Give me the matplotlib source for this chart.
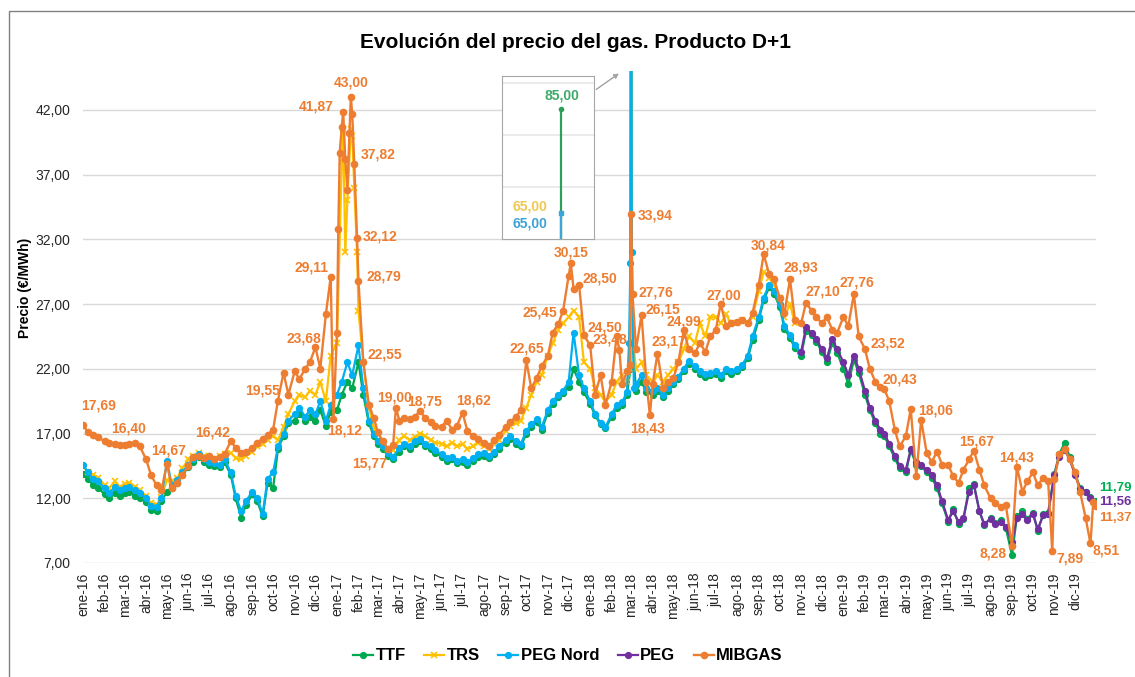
import pandas as pd
import numpy as np
import matplotlib.pyplot as plt
import matplotlib.dates as mdates
from matplotlib.patches import Rectangle

plt.rcParams['font.family'] = ['Liberation Sans', 'DejaVu Sans']

# fechas base: cuatro lecturas por mes (dias 1, 8, 16 y 23)
meses = pd.date_range('2016-01-01', '2019-12-01', freq='MS')
dias = [1, 8, 16, 23]
fechas = [m + pd.Timedelta(days=d - 1) for m in meses for d in dias]

nombres_mes = ['ene', 'feb', 'mar', 'abr', 'may', 'jun',
               'jul', 'ago', 'sep', 'oct', 'nov', 'dic']

# TTF (ene-16 a dic-19)
ttf = [
    13.9, 13.5, 13.0, 12.8,
    12.3, 12.0, 12.4, 12.2,
    12.4, 12.5, 12.2, 12.0,
    11.7, 11.1, 11.0, 11.8,
    12.5, 12.8, 13.2, 13.8,
    14.4, 14.8, 15.2, 14.8,
    14.6, 14.5, 14.4, 14.8,
    13.8, 12.0, 10.5, 11.5,
    12.3, 11.8, 10.6, 13.2,
    12.8, 15.8, 16.8, 17.8,
    18.0, 18.5, 18.0, 18.3,
    18.0, 18.8, 17.6, 18.7,
    18.8, 20.0, 21.0, 20.5,
    22.5, 20.0, 17.8, 16.8,
    16.2, 15.8, 15.3, 15.0,
    15.6, 16.0, 15.8, 16.2,
    16.4, 16.0, 15.8, 15.5,
    15.2, 14.9, 15.0, 14.7,
    14.8, 14.6, 14.9, 15.2,
    15.3, 15.1, 15.4, 15.8,
    16.3, 16.6, 16.2, 16.0,
    17.0, 17.5, 17.9, 17.3,
    18.6, 19.3, 19.8, 20.1,
    20.6, 22.0, 21.0, 20.2,
    19.3, 18.4, 17.7, 17.4,
    18.3, 19.0, 19.2, 20.0,
    85.0, 20.3, 21.0, 20.2,
    20.0, 20.3, 19.8, 20.3,
    20.8, 21.2, 21.8, 22.4,
    22.0, 21.6, 21.4, 21.5,
    21.6, 21.3, 21.8, 21.6,
    21.8, 22.1, 22.8, 24.2,
    25.8, 27.3, 28.3, 27.8,
    26.8, 25.1, 24.4, 23.6,
    23.0, 24.9, 24.6, 24.1,
    23.3, 22.5, 24.0, 23.2,
    22.0, 20.8, 22.7, 21.7,
    20.0, 18.8, 17.8, 17.0,
    16.8, 16.0, 15.1, 14.3,
    14.0, 15.7, 14.6, 14.5,
    14.0, 13.6, 12.8, 11.6,
    10.2, 11.2, 10.0, 10.4,
    12.8, 13.1, 11.0, 9.9,
    10.5, 10.1, 10.3, 9.7,
    7.6, 10.6, 11.0, 10.4,
    10.9, 9.5, 10.8, 10.9,
    13.9, 15.4, 16.3, 15.2,
    13.9, 12.8, 12.5, 12.1,
]
ttf_extra_fechas = ['2018-02-28', '2018-03-02', '2019-12-31']
ttf_extra = [22.0, 25.0, 11.79]

# TRS (ene-16 a oct-18)
trs = [
    14.5, 14.0, 13.8, 13.6,
    13.0, 12.8, 13.3, 12.9,
    13.1, 13.2, 12.9, 12.6,
    12.2, 11.6, 11.5, 12.1,
    13.4, 13.3, 13.6, 14.3,
    15.0, 15.3, 15.5, 15.3,
    15.2, 15.0, 15.3, 15.4,
    15.5, 15.1, 15.0, 15.3,
    15.6, 16.0, 16.2, 16.5,
    16.8, 16.5, 17.5, 18.5,
    19.5, 20.0, 19.8, 20.3,
    20.0, 21.0, 19.5, 23.0,
    24.0, 38.0, 35.0, 40.0,
    26.5, 22.5, 19.0, 17.5,
    16.5, 16.1, 15.8, 15.7,
    16.5, 16.8, 16.5, 16.7,
    17.0, 16.8, 16.5, 16.3,
    16.2, 16.0, 16.3, 16.0,
    16.2, 15.8, 16.0, 16.3,
    16.0, 15.8, 16.2, 16.5,
    17.2, 17.6, 17.8, 18.0,
    19.0, 20.0, 21.0, 21.5,
    23.0, 24.0, 25.0, 25.5,
    26.0, 26.5, 26.0, 22.5,
    22.0, 20.5, 20.0, 19.5,
    20.0, 21.0, 21.5, 21.0,
    65.0, 22.0, 22.5, 21.5,
    21.0, 21.5, 21.0, 21.5,
    22.0, 22.5, 23.5, 24.5,
    24.0, 25.5, 24.5, 26.0,
    26.0, 25.5, 26.2, 25.5,
    25.5, 25.8, 25.5, 26.0,
    28.0, 29.5, 29.0, 28.5,
    27.5, 26.0, 27.0, 25.5,
]
trs_extra_fechas = ['2017-01-10', '2017-01-13', '2017-01-21', '2017-01-26',
                    '2017-01-30', '2018-02-28', '2018-03-02']
trs_extra = [40.5, 31.0, 40.5, 36.0, 31.0, 22.0, 25.0]

# PEG Nord (ene-16 a oct-18)
peg_nord = [
    14.6, 14.0, 13.5, 13.3,
    12.8, 12.4, 12.9, 12.6,
    12.8, 12.9, 12.6, 12.4,
    12.0, 11.4, 11.3, 12.0,
    14.9, 13.0, 13.4, 14.0,
    14.6, 15.0, 15.4, 15.0,
    14.8, 14.7, 14.6, 15.0,
    14.0, 12.2, 11.0, 11.8,
    12.5, 12.0, 10.8, 13.5,
    14.0, 16.0, 17.0, 18.0,
    18.5, 19.0, 18.3, 18.8,
    18.5, 19.5, 18.0, 19.2,
    20.0, 21.0, 22.5, 21.5,
    23.8, 20.5, 18.0, 17.0,
    16.4, 16.0, 15.5, 15.2,
    15.9, 16.2, 16.0, 16.4,
    16.6, 16.2, 16.0, 15.7,
    15.4, 15.1, 15.2, 14.9,
    15.0, 14.8, 15.1, 15.4,
    15.5, 15.3, 15.6, 16.0,
    16.5, 16.8, 16.4, 16.2,
    17.2, 17.7, 18.1, 17.5,
    18.8, 19.5, 20.0, 20.3,
    21.0, 24.8, 21.5, 20.5,
    19.5, 18.5, 17.8, 17.5,
    18.5, 19.2, 19.4, 20.2,
    65.0, 20.8, 21.5, 20.5,
    20.3, 20.5, 20.0, 20.5,
    21.0, 21.4, 22.0, 22.6,
    22.2, 21.8, 21.6, 21.7,
    21.8, 21.5, 22.0, 21.8,
    22.0, 22.3, 23.0, 24.5,
    26.0, 27.5, 28.5, 28.0,
    27.0, 25.3, 24.6, 23.8,
]
peg_nord_extra_fechas = ['2018-02-26', '2018-02-28', '2018-03-02', '2018-03-05', '2018-10-31']
peg_nord_extra = [24.0, 30.2, 31.0, 20.5, 23.3]

# PEG (nov-18 a dic-19)
peg = [
    23.3, 25.2, 24.8, 24.3,
    23.5, 22.8, 24.3, 23.5,
    22.5, 21.5, 23.0, 22.0,
    20.3, 19.0, 18.0, 17.3,
    17.0, 16.2, 15.3, 14.5,
    14.2, 15.8, 14.8, 14.6,
    14.2, 13.8, 13.0, 11.8,
    10.3, 11.0, 10.2, 10.5,
    12.5, 13.0, 11.0, 10.0,
    10.4, 10.0, 10.2, 9.8,
    8.6, 10.5, 10.8, 10.3,
    10.8, 9.6, 10.7, 10.8,
    13.8, 15.2, 15.7, 15.0,
    13.8, 12.7, 12.5, 12.0,
]
peg_extra_fechas = ['2019-12-31']
peg_extra = [11.56]

# MIBGAS (ene-16 a dic-19)
mibgas = [
    17.69, 17.1, 16.9, 16.7,
    16.4, 16.3, 16.2, 16.1,
    16.1, 16.2, 16.3, 16.0,
    15.0, 13.8, 13.0, 12.6,
    14.67, 12.8, 13.2, 13.8,
    14.5, 15.2, 15.3, 15.1,
    15.3, 15.0, 15.2, 15.4,
    16.42, 15.9, 15.5, 15.6,
    15.9, 16.3, 16.6, 16.9,
    17.3, 19.55, 21.7, 20.0,
    21.8, 21.2, 22.0, 22.5,
    23.68, 22.0, 26.2, 29.11,
    24.8, 40.7, 35.8, 41.7,
    28.79, 22.55, 19.2, 18.2,
    17.1, 16.4, 15.77, 16.1,
    18.0, 18.2, 18.1, 18.3,
    18.75, 18.2, 17.9, 17.6,
    17.5, 18.0, 17.3, 17.6,
    18.62, 17.2, 16.8, 16.6,
    16.3, 16.0, 16.5, 16.9,
    17.5, 17.9, 18.3, 18.8,
    22.65, 20.5, 21.3, 22.2,
    23.0, 24.8, 25.45, 26.5,
    29.2, 28.2, 28.5, 24.6,
    23.8, 20.0, 21.5, 19.2,
    21.0, 24.5, 20.8, 21.8,
    33.94, 23.5, 26.15, 21.0,
    20.8, 23.17, 20.5, 21.0,
    21.3, 22.5, 24.99, 23.5,
    23.2, 24.0, 23.3, 24.5,
    25.0, 27.0, 25.3, 25.5,
    25.6, 25.8, 25.5, 26.3,
    28.5, 30.84, 29.3, 28.9,
    27.5, 26.3, 28.93, 25.8,
    25.5, 27.1, 26.5, 26.0,
    25.5, 26.0, 25.0, 24.8,
    26.0, 25.3, 27.76, 24.5,
    23.52, 22.0, 21.0, 20.6,
    20.43, 19.5, 17.3, 16.0,
    16.8, 18.9, 13.7, 18.06,
    15.5, 14.8, 15.6, 14.6,
    14.6, 13.7, 13.2, 14.2,
    15.0, 15.67, 14.2, 13.0,
    12.0, 11.6, 11.3, 11.5,
    8.28, 14.43, 12.5, 13.3,
    14.0, 13.0, 13.6, 13.3,
    13.5, 15.4, 15.8, 15.0,
    14.0, 12.5, 10.5, 8.51,
]
mibgas_extra_fechas = ['2016-12-27', '2017-01-03', '2017-01-05', '2017-01-10',
                       '2017-01-13', '2017-01-19', '2017-01-21', '2017-01-26',
                       '2017-01-30', '2017-03-27', '2017-12-04', '2018-02-12',
                       '2018-02-27', '2018-03-03', '2018-03-28', '2019-10-29',
                       '2019-12-27', '2019-12-31']
mibgas_extra = [18.12, 32.8, 38.7, 41.87,
                38.2, 40.2, 43.00, 37.82,
                32.12, 19.00, 30.15, 23.48,
                22.3, 27.76, 18.43, 7.89,
                11.7, 11.37]

# etiquetas de datos (texto, fecha, valor donde va el texto)
etiquetas_mibgas = [
    ('17,69', '2016-01-24', 19.13), ('16,40', '2016-03-07', 17.36),
    ('14,67', '2016-05-04', 15.66), ('16,42', '2016-07-05', 17.05),
    ('19,55', '2016-09-16', 20.29), ('23,68', '2016-11-14', 24.31),
    ('29,11', '2016-11-26', 29.80), ('41,87', '2016-12-02', 42.24),
    ('43,00', '2017-01-21', 44.09), ('37,82', '2017-03-02', 38.53),
    ('32,12', '2017-03-04', 32.19), ('28,79', '2017-03-10', 29.10),
    ('22,55', '2017-03-11', 23.07), ('18,12', '2017-01-12', 17.20),
    ('19,00', '2017-03-25', 19.75), ('18,75', '2017-05-08', 19.44),
    ('18,62', '2017-07-17', 19.52), ('15,77', '2017-02-17', 14.65),
    ('22,65', '2017-10-02', 23.54), ('25,45', '2017-10-20', 26.32),
    ('30,15', '2017-12-04', 30.96), ('28,50', '2018-01-15', 28.95),
    ('24,50', '2018-01-22', 25.16), ('23,48', '2018-01-29', 24.23),
    ('33,94', '2018-04-04', 33.82), ('27,76', '2018-04-06', 27.87),
    ('26,15', '2018-04-16', 26.55), ('18,43', '2018-03-25', 17.36),
    ('23,17', '2018-04-24', 24.08), ('24,99', '2018-05-16', 25.62),
    ('27,00', '2018-07-13', 27.63), ('30,84', '2018-09-14', 31.50),
    ('28,93', '2018-10-31', 29.80), ('27,10', '2018-12-02', 27.94),
    ('27,76', '2019-01-20', 28.64), ('23,52', '2019-03-06', 23.92),
    ('20,43', '2019-03-23', 21.14), ('18,06', '2019-05-14', 18.75),
    ('15,67', '2019-07-12', 16.35), ('14,43', '2019-09-08', 15.11),
    ('8,28', '2019-08-04', 7.70), ('7,89', '2019-11-23', 7.31),
    ('8,51', '2020-01-15', 8.00),
]

verde = '#00A84F'
amarillo = '#FFC000'
azul = '#00B0F0'
morado = '#7030A0'
naranja = '#ED7D31'


def serie(base_fechas, valores, extra_fechas, extra_valores):
    idx = pd.to_datetime(list(base_fechas) + list(extra_fechas))
    s = pd.Series(list(valores) + list(extra_valores), index=idx)
    return s.sort_index()


s_ttf = serie(fechas, ttf, ttf_extra_fechas, ttf_extra)
s_trs = serie(fechas[:len(trs)], trs, trs_extra_fechas, trs_extra)
s_pegn = serie(fechas[:len(peg_nord)], peg_nord, peg_nord_extra_fechas, peg_nord_extra)
s_peg = serie(fechas[-len(peg):], peg, peg_extra_fechas, peg_extra)
s_mib = serie(fechas, mibgas, mibgas_extra_fechas, mibgas_extra)

fig = plt.figure(figsize=(11.35, 6.77), dpi=100)
W, H = 1135, 677
ax = fig.add_axes([83 / W, 1 - 563 / H, (1096 - 83) / W, (563 - 71) / H])

ax.plot(s_ttf.index, s_ttf.values, color=verde, marker='o', ms=4.2, lw=1.6, label='TTF')
ax.plot(s_trs.index, s_trs.values, color=amarillo, marker='x', ms=4.5, mew=1.2, lw=1.6, label='TRS')
ax.plot(s_pegn.index, s_pegn.values, color=azul, marker='o', ms=4.2, lw=1.6, label='PEG Nord')
ax.plot(s_peg.index, s_peg.values, color=morado, marker='o', ms=4.2, lw=1.6, label='PEG')
ax.plot(s_mib.index, s_mib.values, color=naranja, marker='o', ms=4.5, lw=1.7, label='MIBGAS')

ax.set_xlim(pd.Timestamp('2016-01-01'), pd.Timestamp('2019-12-31'))
ax.set_ylim(7, 45)
yt = np.arange(7, 43, 5)
ax.set_yticks(yt)
ax.set_yticklabels([f'{v:.2f}'.replace('.', ',') for v in yt])
ax.set_xticks(meses)
ax.set_xticklabels([f'{nombres_mes[m.month - 1]}-{m.year % 100}' for m in meses], rotation=90)
ax.grid(axis='y', color='#D9D9D9', lw=1)
ax.set_axisbelow(True)
for sp in ax.spines.values():
    sp.set_visible(False)
ax.tick_params(axis='y', length=0, labelsize=10, pad=9, labelcolor='#262626')
ax.tick_params(axis='x', length=0, labelsize=10, pad=7, labelcolor='#262626')

for txt, f, v in etiquetas_mibgas:
    ax.text(mdates.date2num(pd.Timestamp(f)), v, txt, ha='center', va='center',
            color=naranja, fontsize=10, fontweight='bold', clip_on=False)

# valores finales
xf = mdates.date2num(pd.Timestamp('2020-01-05'))
ax.text(xf, 12.80, '11,79', color='#00B050', fontsize=9.5, fontweight='bold', va='center', clip_on=False)
ax.text(xf, 11.71, '11,56', color=morado, fontsize=9.5, fontweight='bold', va='center', clip_on=False)
ax.text(xf, 10.48, '11,37', color=naranja, fontsize=9.5, fontweight='bold', va='center', clip_on=False)

# recuadro con el detalle del pico de marzo 2018
ax_in = fig.add_axes([502 / W, 1 - 239 / H, 92 / W, 163 / H])
fecha_pico = pd.Timestamp('2018-03-01')
for s, c, mk in [(s_ttf, '#2E9E5B', 'o'), (s_trs, '#F2C14E', None), (s_pegn, '#3AA6DC', 's')]:
    antes = s[s.index < fecha_pico].iloc[-1]
    ax_in.plot([0, 0], [antes, s[fecha_pico]], color=c, lw=1.6)
    if mk:
        ax_in.plot([0], [s[fecha_pico]], color=c, marker=mk, ms=3)
ax_in.set_xlim(-0.64, 0.36)
ax_in.set_ylim(60, 91.35)
ax_in.set_yticks([70, 80, 90])
ax_in.set_xticks([])
ax_in.tick_params(length=0, labelleft=False)
ax_in.grid(axis='y', color='#E8E8E8', lw=1.2)
for sp in ax_in.spines.values():
    sp.set_color('#A6A6A6')
ax_in.text(0.652, 0.883, '85,00', transform=ax_in.transAxes, ha='center', va='center',
           color='#3DAA6A', fontsize=10, fontweight='bold')
ax_in.text(0.30, 0.202, '65,00', transform=ax_in.transAxes, ha='center', va='center',
           color='#F0C850', fontsize=10, fontweight='bold')
ax_in.text(0.30, 0.098, '65,00', transform=ax_in.transAxes, ha='center', va='center',
           color='#3FA2D6', fontsize=10, fontweight='bold')
fig.add_artist(plt.annotate('', xy=(621, H - 72), xytext=(594, H - 91),
                            xycoords='figure pixels', textcoords='figure pixels',
                            arrowprops=dict(arrowstyle='-|>', color='#A6A6A6', lw=0.8,
                                            mutation_scale=7)))

fig.text(576 / W, 1 - 43 / H, 'Evolución del precio del gas. Producto D+1',
         ha='center', va='center', fontsize=15, fontweight='bold')
fig.text(25 / W, 1 - 288 / H, 'Precio (€/MWh)', rotation=90, ha='center', va='center',
         fontsize=10, fontweight='bold')

h, l = ax.get_legend_handles_labels()
fig.legend(h, l, loc='center', bbox_to_anchor=(568 / W, 1 - 656 / H), ncol=5, frameon=False,
           prop={'weight': 'bold', 'size': 12}, handlelength=1.2, handletextpad=0.15,
           columnspacing=1.1)

fig.add_artist(Rectangle((9 / W, -0.05), 1.2, (H - 11) / H + 0.05, transform=fig.transFigure,
                         fill=False, edgecolor='#808080', lw=1))

fig.savefig('out.png', dpi=100)
